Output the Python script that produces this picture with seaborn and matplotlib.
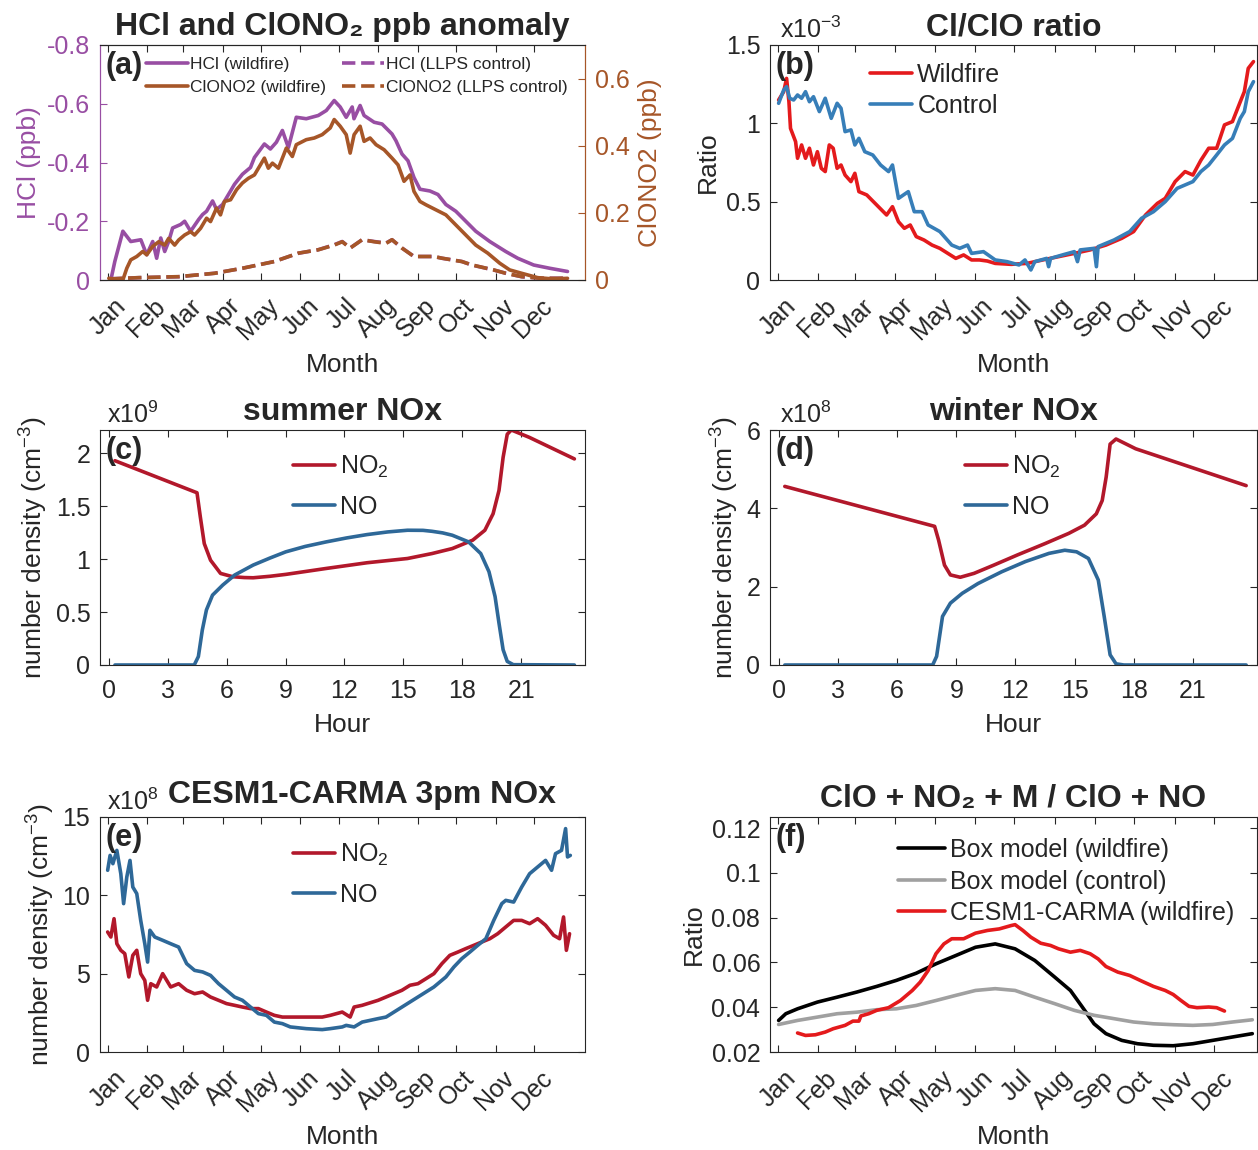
import numpy as np
import pandas as pd
import matplotlib
matplotlib.use("Agg")
import matplotlib.pyplot as plt
from matplotlib.ticker import FuncFormatter
from matplotlib.transforms import ScaledTranslation
import seaborn as sns

# ---- data ---------------------------------------------------------------
month_ticks = [1, 32, 60, 91, 121, 152, 182, 213, 244, 274, 305, 335]
month_labels = ["Jan", "Feb", "Mar", "Apr", "May", "Jun",
                "Jul", "Aug", "Sep", "Oct", "Nov", "Dec"]

# (a) HCl / ClONO2 anomaly
a_day_hcl = [3.5, 6.6, 12.9, 19.1, 27, 31.6, 36.3, 39.4, 42.6, 45.7, 48.8, 51.9, 58.2, 61.3,
             66, 72.3, 75.4, 78.5, 83.2, 86.3, 91, 97.3, 100.4, 106.6, 112.9, 116, 123.8,
             128.5, 133.2, 137.9, 142.6, 148.8, 156.6, 166, 172.3, 178.5, 183.2, 187.9,
             192.6, 194, 198.8, 201.9, 209.8, 216, 223.8, 226.9, 231.6, 236.3, 241, 245.7,
             253.5, 259.8, 266, 273.8, 281.6, 289.4, 300.4, 312.9, 322.3, 334.8, 347.3, 361.3]
a_hcl_wild = [0, -0.063, -0.166, -0.131, -0.137, -0.086, -0.131, -0.074, -0.143, -0.097,
              -0.131, -0.177, -0.189, -0.2, -0.166, -0.206, -0.223, -0.234, -0.269, -0.24,
              -0.257, -0.303, -0.326, -0.36, -0.383, -0.417, -0.463, -0.446, -0.469, -0.509,
              -0.451, -0.554, -0.549, -0.56, -0.577, -0.611, -0.589, -0.554, -0.589, -0.549,
              -0.594, -0.56, -0.537, -0.531, -0.497, -0.474, -0.429, -0.406, -0.349, -0.309,
              -0.303, -0.291, -0.257, -0.234, -0.2, -0.166, -0.131, -0.097, -0.074, -0.051,
              -0.04, -0.029]
a_day_clono2 = [1.9, 12.9, 16, 19.1, 23.8, 28.5, 31.6, 36.3, 41, 45.7, 48.8, 53.5, 56.6, 61.3,
                66, 69.1, 73.8, 78.5, 81.6, 86.3, 89.4, 92.6, 97.3, 102, 106.6, 111.3, 116,
                120.7, 123.8, 126.9, 130.1, 134.8, 141, 145.7, 148.8, 156.6, 162.9, 169.1,
                175.4, 178.5, 183.2, 187.9, 191, 194.1, 198.8, 201.9, 206.6, 211.3, 217.6,
                223.8, 228.5, 233.2, 237.9, 241, 245.7, 250.4, 258.2, 266, 273.8, 281.6,
                289.4, 298.8, 308.2, 316, 325.4, 337.9, 350.4, 361.3]
a_clono2_wild = [0.005, 0, 0.035, 0.06, 0.07, 0.085, 0.075, 0.1, 0.114, 0.104, 0.124, 0.104,
                 0.119, 0.134, 0.144, 0.134, 0.154, 0.184, 0.174, 0.214, 0.194, 0.234, 0.239,
                 0.269, 0.289, 0.303, 0.313, 0.343, 0.363, 0.333, 0.348, 0.333, 0.393, 0.368,
                 0.403, 0.418, 0.423, 0.433, 0.453, 0.478, 0.458, 0.433, 0.378, 0.433, 0.458,
                 0.413, 0.423, 0.403, 0.388, 0.363, 0.343, 0.294, 0.313, 0.264, 0.234, 0.224,
                 0.209, 0.194, 0.164, 0.134, 0.104, 0.08, 0.05, 0.03, 0.02, 0.007, 0.003, 0.005]
a_day_ctrl = [2, 25.4, 56.6, 84.8, 106.6, 131.6, 150.4, 166, 178.5, 184.8, 191, 200.4, 209.8,
              219.1, 223.8, 231.6, 241, 256.6, 262.9, 278.5, 286.3, 303.5, 312.9, 325.4, 341, 361.3]
a_hcl_ctrl = [-0.004, -0.008, -0.011, -0.023, -0.04, -0.063, -0.091, -0.103, -0.12, -0.131,
              -0.109, -0.137, -0.131, -0.126, -0.137, -0.109, -0.08, -0.08, -0.074, -0.063,
              -0.051, -0.034, -0.023, -0.011, -0.006, -0.006]
a_clono2_ctrl = [0.003, 0.007, 0.01, 0.02, 0.035, 0.055, 0.08, 0.09, 0.104, 0.114, 0.095, 0.12,
                 0.114, 0.109, 0.12, 0.095, 0.07, 0.07, 0.065, 0.055, 0.045, 0.03, 0.02, 0.01,
                 0.005, 0.005]

# (b) Cl/ClO ratio (x1e-3)
b_day_wild = [1.6, 5.5, 7.7, 9.5, 10.7, 14.6, 16.1, 19.2, 22.2, 25.2, 28.3, 31.3, 34.3, 37.3,
              40.4, 43.4, 46.4, 49.4, 52.5, 57, 60, 63.1, 69.1, 76.7, 84.3, 88.8, 93.4, 97.9,
              102.4, 107, 113, 119.1, 125.1, 131.2, 137.3, 143.3, 149.4, 155.4, 161.5, 167.5,
              179.7, 191.8, 203.9, 216, 228.1, 240.2, 252.3, 264.4, 273.5, 282.6, 291.7, 297.7,
              305.3, 312.9, 318.9, 325, 331, 337.1, 343.1, 349.2, 355.2, 358.3, 361.3, 365.3]
b_wildfire = [1.149, 1.202, 1.287, 1.138, 0.968, 0.883, 0.777, 0.862, 0.777, 0.841, 0.734,
              0.819, 0.713, 0.692, 0.862, 0.841, 0.713, 0.734, 0.670, 0.628, 0.681, 0.564,
              0.543, 0.479, 0.415, 0.468, 0.372, 0.330, 0.351, 0.277, 0.255, 0.223, 0.202,
              0.170, 0.138, 0.160, 0.128, 0.128, 0.121, 0.106, 0.100, 0.106, 0.128, 0.149,
              0.170, 0.192, 0.223, 0.266, 0.309, 0.415, 0.489, 0.521, 0.628, 0.692, 0.670,
              0.764, 0.841, 0.841, 0.990, 1.011, 1.138, 1.202, 1.351, 1.394]
b_day_ctrl = [1.6, 5.5, 7.7, 10.1, 13.1, 16.1, 19.2, 22.2, 25.2, 28.3, 32.8, 37.3, 41.9, 46.4,
              49.4, 52.5, 57, 60, 63.1, 67.6, 73.7, 79.7, 85.8, 88.8, 93.4, 100.9, 105.5, 111.5,
              116.1, 125.1, 134.2, 140.3, 146.3, 149.4, 158.5, 167.5, 176.6, 185.7, 190.3,
              194.8, 197.8, 206.9, 208.4, 209.9, 219, 228.1, 230.5, 232.6, 243.2, 245, 246.3,
              258.4, 270.5, 279.6, 288.7, 297.7, 306.8, 318.9, 325, 331, 337.1, 343.1, 349.2,
              355.2, 358.3, 361.3, 365.3]
b_control = [1.128, 1.213, 1.234, 1.160, 1.149, 1.181, 1.160, 1.202, 1.138, 1.170, 1.075,
             1.160, 1.032, 1.128, 1.096, 0.947, 0.958, 0.862, 0.904, 0.819, 0.798, 0.734,
             0.692, 0.734, 0.521, 0.564, 0.436, 0.436, 0.351, 0.309, 0.223, 0.202, 0.223,
             0.170, 0.181, 0.128, 0.117, 0.096, 0.128, 0.064, 0.117, 0.138, 0.085, 0.138,
             0.160, 0.181, 0.117, 0.192, 0.202, 0.085, 0.213, 0.255, 0.309, 0.394, 0.436,
             0.500, 0.585, 0.628, 0.692, 0.734, 0.798, 0.862, 0.904, 1.032, 1.075, 1.202, 1.266]

# (c) summer diurnal NOx (x1e9)
c_hour_no2 = [0.31, 4.49, 4.66, 4.86, 5.18, 5.69, 6.31, 6.9, 7.35, 8.2, 9.01, 11.07, 13.15,
              15.21, 16.46, 17.49, 18.53, 19.15, 19.57, 19.87, 20.08, 20.29, 20.5, 21.42, 23.71]
c_no2 = [1.93, 1.627, 1.398, 1.147, 0.99, 0.865, 0.834, 0.826, 0.824, 0.838, 0.856, 0.912,
         0.966, 1.006, 1.053, 1.10, 1.179, 1.273, 1.429, 1.649, 1.962, 2.18, 2.22, 2.15, 1.947]
c_hour_no = [0.31, 4.35, 4.56, 4.76, 4.97, 5.28, 5.8, 6.41, 7.35, 8.2, 9.01, 10.0, 11.07, 12.1,
             13.15, 14.2, 15.21, 16.0, 16.46, 17.0, 17.49, 18.32, 18.94, 19.36, 19.67, 19.87,
             20.08, 20.29, 20.6, 23.71]
c_no = [0, 0, 0.08, 0.33, 0.52, 0.66, 0.755, 0.85, 0.944, 1.01, 1.069, 1.12, 1.163, 1.2,
        1.232, 1.257, 1.273, 1.272, 1.263, 1.248, 1.226, 1.163, 1.053, 0.881, 0.646, 0.395,
        0.144, 0.034, 0.003, 0]

# (d) winter diurnal NOx (x1e8)
d_hour_no2 = [0.3, 7.9, 8.1, 8.4, 8.7, 9.2, 9.9, 10.9, 12.1, 13.5, 14.7, 15.5, 16.1, 16.4,
              16.6, 16.8, 17.1, 18.1, 20.9, 23.7]
d_no2 = [4.56, 3.54, 3.19, 2.55, 2.30, 2.24, 2.34, 2.55, 2.81, 3.10, 3.36, 3.57, 3.86, 4.20,
         4.80, 5.64, 5.77, 5.52, 5.05, 4.58]
d_hour_no = [0.3, 7.8, 8.0, 8.3, 8.7, 9.3, 10.1, 11.3, 12.5, 13.7, 14.5, 15.1, 15.7, 16.2,
             16.5, 16.8, 17.1, 17.5, 23.7]
d_no = [0, 0, 0.22, 1.24, 1.58, 1.83, 2.08, 2.38, 2.64, 2.85, 2.93, 2.89, 2.72, 2.17, 1.24,
        0.26, 0.03, 0, 0]

# (e) CESM1-CARMA 3pm NOx (x1e8)
e_day_no = [1, 2.9, 5.1, 8.2, 11.3, 13.5, 16, 18.5, 20.7, 23.8, 26.9, 30.1, 32.3, 34.1, 37.9,
            44.1, 50.4, 56.6, 62.9, 69.1, 75.4, 81.6, 87.9, 94.1, 100.4, 106.6, 112.9, 119.1,
            125.4, 131.6, 137.9, 144.1, 156.6, 169.1, 175.4, 184.8, 187.9, 194.1, 200.4,
            212.9, 219.1, 231.6, 244.1, 256.6, 266, 272.3, 278.5, 284.8, 291, 297.3, 303.5,
            309.8, 312.9, 319.1, 325.4, 331.6, 337.9, 344.1, 348.8, 351.9, 356.6, 359.8,
            361.3, 363.5]
e_no = [11.6, 12.55, 12.02, 12.87, 11.38, 9.47, 11.17, 12.23, 10.53, 10.11, 8.40, 6.91, 5.74,
        7.77, 7.34, 7.13, 6.91, 6.70, 5.64, 5.21, 5.11, 4.89, 4.36, 3.94, 3.51, 3.30, 2.87,
        2.45, 2.34, 1.91, 1.81, 1.60, 1.49, 1.43, 1.49, 1.60, 1.70, 1.60, 1.91, 2.13, 2.23,
        2.87, 3.51, 4.15, 4.79, 5.43, 5.96, 6.38, 6.81, 7.23, 8.40, 9.47, 9.68, 9.57, 10.53,
        11.38, 11.81, 12.23, 11.60, 12.66, 12.87, 14.26, 12.45, 12.55]
e_day_no2 = [1, 3.5, 6, 8.2, 11.3, 14.4, 17.6, 20.7, 23.8, 26.9, 30.1, 32.3, 34.8, 39.4, 44.1,
             50.4, 56.6, 62.9, 69.1, 75.4, 81.6, 87.9, 94.1, 100.4, 106.6, 112.9, 119.1,
             125.4, 131.6, 137.9, 144.1, 156.6, 169.1, 175.4, 184.8, 191, 194.1, 200.4,
             212.9, 219.1, 231.6, 237.9, 244.1, 250.4, 256.6, 262.9, 269.1, 275.4, 281.6,
             287.9, 294.1, 300.4, 306.6, 312.9, 319.1, 325.4, 331.6, 337.9, 344.1, 350.4,
             355.1, 358.2, 360.4, 362.9]
e_no2 = [7.66, 7.34, 8.51, 6.91, 6.49, 6.28, 4.79, 6.17, 6.49, 5.0, 4.57, 3.30, 4.36, 4.15,
         5.0, 4.15, 4.36, 3.94, 3.72, 3.83, 3.51, 3.30, 3.09, 2.98, 2.87, 2.77, 2.77, 2.55,
         2.34, 2.23, 2.23, 2.23, 2.23, 2.34, 2.55, 2.23, 2.87, 2.98, 3.30, 3.51, 3.94, 4.26,
         4.36, 4.68, 5.0, 5.64, 6.17, 6.38, 6.60, 6.81, 7.02, 7.23, 7.55, 7.98, 8.40, 8.40,
         8.19, 8.51, 8.09, 7.45, 7.23, 8.62, 6.49, 7.55]

# (f) ClO+NO2+M / ClO+NO rate ratio
f_day_box = [1.6, 7.1, 16.1, 31.3, 46.4, 61.6, 76.7, 91.8, 107, 122.1, 137.3, 152.4, 167.5,
             182.7, 197.8, 213, 225.1, 234.2, 243.2, 252.3, 264.4, 276.5, 288.7, 303.8, 318.9,
             334.1, 349.2, 364.4]
f_box_wild = [0.0341, 0.0371, 0.0393, 0.0423, 0.0445, 0.0468, 0.0493, 0.052, 0.0552, 0.0594,
              0.0631, 0.0668, 0.0683, 0.0661, 0.0609, 0.0535, 0.0475, 0.0401, 0.0326, 0.0282,
              0.0252, 0.0237, 0.023, 0.0228, 0.0237, 0.0252, 0.0267, 0.0282]
f_day_ctrl = [1.6, 16.1, 31.3, 46.4, 61.6, 76.7, 91.8, 107, 122.1, 137.3, 152.4, 167.5, 182.7,
              197.8, 213, 228.1, 243.2, 258.4, 273.5, 288.7, 303.8, 318.9, 334.1, 349.2, 364.4]
f_box_ctrl = [0.0323, 0.0341, 0.0356, 0.0371, 0.0378, 0.0389, 0.0393, 0.0408, 0.043, 0.0453,
              0.0475, 0.0483, 0.0475, 0.0445, 0.0416, 0.0386, 0.0364, 0.0349, 0.0334, 0.0326,
              0.0322, 0.0319, 0.0323, 0.0334, 0.0344]
f_day_cesm = [16.1, 22.2, 29.8, 37.3, 43.4, 52.5, 58.5, 63.1, 64.6, 70.6, 76.7, 85.8, 94.9,
              104, 110, 116.1, 122.1, 128.2, 134.2, 143.3, 152.4, 161.5, 170.6, 179.7, 182.7,
              188.7, 194.8, 202.4, 209.9, 216, 225.1, 232.6, 240.2, 246.3, 252.3, 261.4,
              270.5, 279.6, 288.7, 297.7, 303.8, 309.8, 315.9, 322, 331, 337.1, 343.1]
f_cesm_wild = [0.0285, 0.0274, 0.0277, 0.0289, 0.0304, 0.0319, 0.0338, 0.0338, 0.0361,
               0.0371, 0.0386, 0.0398, 0.043, 0.0475, 0.0512, 0.0564, 0.0639, 0.0683, 0.0706,
               0.0706, 0.0731, 0.0743, 0.075, 0.0765, 0.0769, 0.0743, 0.0713, 0.0686, 0.0676,
               0.0661, 0.0646, 0.0654, 0.0639, 0.0616, 0.0582, 0.0557, 0.0542, 0.0517, 0.0493,
               0.0475, 0.0457, 0.043, 0.0404, 0.0398, 0.0401, 0.0398, 0.0383]

# ---- style ---------------------------------------------------------------
sns.set_style("ticks")
plt.rcParams['font.family'] = ['Liberation Sans', 'DejaVu Sans']
plt.rcParams['mathtext.fontset'] = 'custom'
plt.rcParams['mathtext.rm'] = 'Liberation Sans'
plt.rcParams['mathtext.it'] = 'Liberation Sans:italic'
plt.rcParams['mathtext.bf'] = 'Liberation Sans:bold'
plt.rcParams['axes.unicode_minus'] = False
plt.rcParams['xtick.direction'] = 'in'
plt.rcParams['ytick.direction'] = 'in'

TICK = 18
LAB = 19
TTL = 23
LW = 2.6
AXC = '#262626'

purple, brown = '#984EA3', '#A65628'
red1, blue1 = '#E41A1C', '#377EB8'
red2, blue2 = '#B2182B', '#2E6898'

fmt = FuncFormatter(lambda v, p: '%g' % round(v, 6))

fig = plt.figure(figsize=(12.58, 11.5), dpi=100)
W, H = 1258.0, 1150.0


def make_ax(left, top, right, bottom):
    ax = fig.add_axes([left / W, 1 - bottom / H, (right - left) / W, (bottom - top) / H])
    ax.tick_params(labelsize=TICK, colors=AXC, top=True, right=True, length=5, width=0.8)
    ax.tick_params(axis='y', pad=7)
    ax.tick_params(axis='x', pad=10)
    for s in ax.spines.values():
        s.set_color(AXC)
        s.set_linewidth(0.8)
    ax.yaxis.set_major_formatter(fmt)
    return ax


def month_axis(ax, xmax):
    ax.set_xlim(-5, xmax)
    ax.set_xticks(month_ticks)
    ax.set_xticklabels(month_labels, rotation=45, ha='right', rotation_mode='anchor',
                       fontsize=TICK, color=AXC)
    off = ScaledTranslation(0.06, 0, fig.dpi_scale_trans)
    for lab in ax.get_xticklabels():
        lab.set_transform(lab.get_transform() + off)
    ax.set_xlabel('Month', fontsize=LAB, color=AXC, labelpad=6)


def hour_axis(ax):
    ax.set_xlim(-0.45, 24.25)
    ax.set_xticks(range(0, 24, 3))
    ax.set_xlabel('Hour', fontsize=LAB, color=AXC, labelpad=7)


def panel_label(ax, s):
    ax.text(0.012, 0.975, s, transform=ax.transAxes, fontsize=22, fontweight='bold',
            va='top', ha='left')


def offset_label(ax, s, x=0.015):
    ax.text(x, 1.01, s, transform=ax.transAxes, fontsize=TICK, va='bottom', ha='left',
            color=AXC)


def leg(ax, x, y, fs=TICK, hl=1.7, **kw):
    ax.legend(loc='upper left', bbox_to_anchor=(x, y), frameon=False, fontsize=fs,
              handlelength=hl, handletextpad=0.2, borderpad=0, borderaxespad=0, **kw)


# ---- (a) -----------------------------------------------------------------
ax = make_ax(100, 45, 585, 280)
ax2 = ax.twinx()
sns.lineplot(x=a_day_hcl, y=a_hcl_wild, ax=ax, color=purple, lw=LW, label='HCl (wildfire)')
sns.lineplot(x=a_day_ctrl, y=a_hcl_ctrl, ax=ax, color=purple, lw=LW, ls='--',
             label='HCl (LLPS control)')
sns.lineplot(x=a_day_clono2, y=a_clono2_wild, ax=ax2, color=brown, lw=LW,
             label='ClONO2 (wildfire)')
sns.lineplot(x=a_day_ctrl, y=a_clono2_ctrl, ax=ax2, color=brown, lw=LW, ls='--',
             label='ClONO2 (LLPS control)')
ax.set_ylim(0, -0.8)
ax.set_yticks([0, -0.2, -0.4, -0.6, -0.8])
ax.tick_params(axis='y', colors=purple, right=False)
ax.set_ylabel('HCl (ppb)', fontsize=LAB, color=purple, labelpad=4)
ax2.set_ylim(0, 0.70)
ax2.set_yticks([0, 0.2, 0.4, 0.6])
ax2.yaxis.set_major_formatter(fmt)
ax2.tick_params(axis='y', labelsize=TICK, colors=brown, direction='in', length=5, pad=7)
ax2.set_ylabel('ClONO2 (ppb)', fontsize=LAB, color=brown, labelpad=6)
for a_ in (ax, ax2):
    a_.spines['left'].set_color(purple)
    a_.spines['right'].set_color(brown)
    a_.spines['top'].set_color(AXC)
    a_.spines['bottom'].set_color(AXC)
month_axis(ax, 375)
if ax2.get_legend():
    ax2.get_legend().remove()
h1, l1 = ax.get_legend_handles_labels()
h2, l2 = ax2.get_legend_handles_labels()
handles = [h1[0], h2[0], h1[1], h2[1]]
labels = [l1[0], l2[0], l1[1], l2[1]]
ax.legend(handles, labels, loc='upper left', bbox_to_anchor=(0.095, 0.948), ncol=2,
          frameon=False, fontsize=12.5, handlelength=2.4, handletextpad=0.15,
          columnspacing=0.9, labelspacing=0.45, borderpad=0, borderaxespad=0)
ax.set_title('HCl and ClONO₂ ppb anomaly', fontsize=TTL, fontweight='bold', pad=7)
panel_label(ax, '(a)')

# ---- (b) -----------------------------------------------------------------
ax = make_ax(770, 45, 1257, 280)
sns.lineplot(x=b_day_wild, y=b_wildfire, ax=ax, color=red1, lw=LW, label='Wildfire')
sns.lineplot(x=b_day_ctrl, y=b_control, ax=ax, color=blue1, lw=LW, label='Control')
ax.set_ylim(0, 1.5)
ax.set_yticks([0, 0.5, 1, 1.5])
ax.set_ylabel('Ratio', fontsize=LAB, color=AXC)
month_axis(ax, 368)
leg(ax, 0.205, 0.925, labelspacing=0.3)
ax.set_title('Cl/ClO ratio', fontsize=TTL, fontweight='bold', pad=7)
offset_label(ax, r'x10$^{-3}$', x=0.02)
panel_label(ax, '(b)')

# ---- (c) -----------------------------------------------------------------
ax = make_ax(100, 430, 585, 665)
sns.lineplot(x=c_hour_no2, y=c_no2, ax=ax, color=red2, lw=LW, label=r'NO$_2$')
sns.lineplot(x=c_hour_no, y=c_no, ax=ax, color=blue2, lw=LW, label='NO')
hour_axis(ax)
ax.set_ylim(0, 2.22)
ax.set_yticks([0, 0.5, 1, 1.5, 2])
ax.set_ylabel(r'number density (cm$^{-3}$)', fontsize=LAB, color=AXC)
leg(ax, 0.397, 0.90, labelspacing=0.6)
ax.set_title('summer NOx', fontsize=TTL, fontweight='bold', pad=7)
offset_label(ax, r'x10$^{9}$')
panel_label(ax, '(c)')

# ---- (d) -----------------------------------------------------------------
ax = make_ax(770, 430, 1257, 665)
sns.lineplot(x=d_hour_no2, y=d_no2, ax=ax, color=red2, lw=LW, label=r'NO$_2$')
sns.lineplot(x=d_hour_no, y=d_no, ax=ax, color=blue2, lw=LW, label='NO')
hour_axis(ax)
ax.set_ylim(0, 6)
ax.set_yticks([0, 2, 4, 6])
ax.set_ylabel(r'number density (cm$^{-3}$)', fontsize=LAB, color=AXC)
leg(ax, 0.400, 0.90, labelspacing=0.6)
ax.set_title('winter NOx', fontsize=TTL, fontweight='bold', pad=7)
offset_label(ax, r'x10$^{8}$', x=0.02)
panel_label(ax, '(d)')

# ---- (e) -----------------------------------------------------------------
ax = make_ax(100, 817, 585, 1052)
sns.lineplot(x=e_day_no2, y=e_no2, ax=ax, color=red2, lw=LW, label=r'NO$_2$')
sns.lineplot(x=e_day_no, y=e_no, ax=ax, color=blue2, lw=LW, label='NO')
ax.set_ylim(0, 15)
ax.set_yticks([0, 5, 10, 15])
ax.set_ylabel(r'number density (cm$^{-3}$)', fontsize=LAB, color=AXC)
month_axis(ax, 375)
leg(ax, 0.397, 0.895, labelspacing=0.6)
ax.text(0.54, 1.03, 'CESM1-CARMA 3pm NOx', transform=ax.transAxes, fontsize=TTL,
        fontweight='bold', ha='center', va='bottom')
offset_label(ax, r'x10$^{8}$')
panel_label(ax, '(e)')

# ---- (f) -----------------------------------------------------------------
ax = make_ax(770, 817, 1257, 1052)
sns.lineplot(x=f_day_box, y=f_box_wild, ax=ax, color='black', lw=LW,
             label='Box model (wildfire)')
sns.lineplot(x=f_day_ctrl, y=f_box_ctrl, ax=ax, color='#A0A0A0', lw=LW,
             label='Box model (control)')
sns.lineplot(x=f_day_cesm, y=f_cesm_wild, ax=ax, color=red1, lw=LW,
             label='CESM1-CARMA (wildfire)')
ax.set_ylim(0.02, 0.125)
ax.set_yticks([0.02, 0.04, 0.06, 0.08, 0.1, 0.12])
ax.set_ylabel('Ratio', fontsize=LAB, color=AXC)
month_axis(ax, 368)
leg(ax, 0.262, 0.91, hl=1.9, labelspacing=0.3)
ax.set_title('ClO + NO₂ + M / ClO + NO', fontsize=TTL, fontweight='bold', pad=7)
panel_label(ax, '(f)')

fig.savefig('out.png', dpi=100)
